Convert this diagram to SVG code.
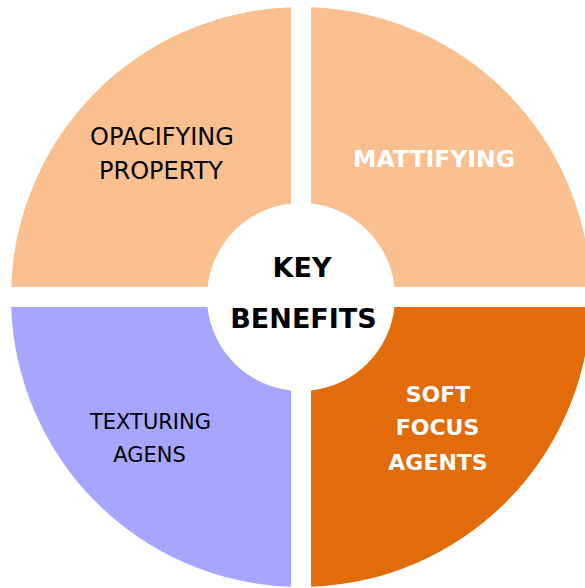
<svg xmlns="http://www.w3.org/2000/svg" width="585" height="588" viewBox="0 0 585 588">
<style>
.t{font-family:"Comic Sans MS","DejaVu Sans",sans-serif;text-anchor:middle}
.dk{fill:#000}
.wt{fill:#fff;font-weight:bold}
.b{font-weight:bold}
</style>
<rect width="585" height="588" fill="#fff"/>
<g id="opacifying">
<path d="M291,7.17 L291,203.53 A94,94 0 0 0 207.53,287 L11.17,287 A290,290 0 0 1 291,7.17 Z" fill="#FAC090"/>
<text class="t dk" x="162" y="144.5" font-size="24">OPACIFYING</text>
<text class="t dk" x="161" y="179" font-size="24">PROPERTY</text>
</g>
<g id="mattifying">
<path d="M311,7.17 A290,290 0 0 1 590.83,287 L394.47,287 A94,94 0 0 0 311,203.53 Z" fill="#FAC090"/>
<text class="t wt" x="434" y="166.5" font-size="23.5">MATTIFYING</text>
</g>
<g id="soft-focus">
<path d="M394.47,307 L590.83,307 A290,290 0 0 1 311,586.83 L311,390.47 A94,94 0 0 0 394.47,307 Z" fill="#E36C0A"/>
<text class="t wt" x="438" y="401.5" font-size="22">SOFT</text>
<text class="t wt" x="437.5" y="435" font-size="22">FOCUS</text>
<text class="t wt" x="438" y="469.5" font-size="22">AGENTS</text>
</g>
<g id="texturing">
<path d="M291,390.47 L291,586.83 A290,290 0 0 1 11.17,307 L207.53,307 A94,94 0 0 0 291,390.47 Z" fill="#A6A6FF"/>
<text class="t dk" x="150.5" y="429" font-size="21">TEXTURING</text>
<text class="t dk" x="149.5" y="461.5" font-size="21">AGENS</text>
</g>
<g id="key-benefits">
<text class="t dk b" x="302" y="277" font-size="27">KEY</text>
<text class="t dk b" x="303.5" y="328" font-size="27">BENEFITS</text>
</g>
</svg>
